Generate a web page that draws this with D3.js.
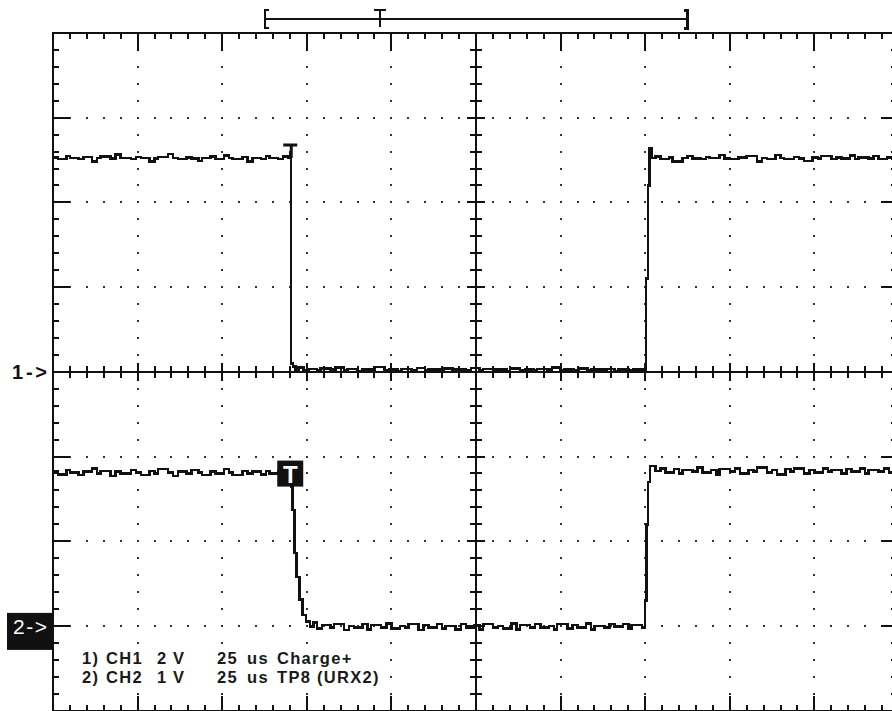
<!DOCTYPE html>
<html>
<head>
<meta charset="utf-8">
<script src="https://cdn.jsdelivr.net/npm/d3@7"></script>
<style>
  body { margin: 0; background: #fff; }
  svg { display: block; }
  text { font-family: "Liberation Sans", Arial, sans-serif; }
</style>
</head>
<body>
<div id="scope"></div>
<script>
// scope screen: 10 x 8 divisions, 25 us/div
var timePerDiv = 25;
var ch1VoltsPerDiv = 2, ch2VoltsPerDiv = 1;
var ch1GroundDiv = 4, ch2GroundDiv = 7;   // divisions from the top
var triggerTime = 70.4;

// record bar above the screen, in divisions
var recordStart = 2.5, recordTrig = 3.87, recordEnd = 7.5;

var legendRows = [
  ["1)", "CH1", "2", "V", "25", "us", "Charge+"],
  ["2)", "CH2", "1", "V", "25", "us", "TP8 (URX2)"]
];

// [time us, volts]
var ch1Trace = [
  [0,5.06],[1.5,5.03],[4,5.10],[5,5.05],[7.5,5.02],[9,5.07],[11.5,4.96],[13,5.05],[14,5.08],[17,5.04],
  [18.5,5.13],[20,5.05],[23,5.02],[24.5,5.07],[26,5.05],[28.5,4.97],[30,5.04],[31,5.07],[34,5.14],
  [35.5,5.05],[37,5.02],[39.5,5.06],[41,5.04],[43,4.98],[44,5.05],[46.5,5.08],[48,5.03],[50.5,5.11],
  [52,5.05],[53,5.02],[56,5.07],[57.5,4.97],[59,5.05],[61.5,5.03],[63,5.10],[64,5.05],[66.5,5.02],
  [68,5.08],[69.5,5.05],[70.2,5.18],
  [70.4,0.20],[70.9,0.12],[71.6,0.02],[72.5,0.10],[74,0.04],[75.5,0.07],[78,0.03],[79,0.08],[82,0.05],
  [83.5,0.10],[86,0.04],[87,0.07],[90,0.02],[91.5,0.06],[94,0.05],[95,0.11],[98,0.04],[99.5,0.06],
  [102,0.02],[103,0.07],[106,0.04],[107.5,0.09],[110,0.03],[111,0.06],[114,0.05],[115.5,0.08],[118,0.02],
  [119,0.06],[122,0.04],[123.5,0.09],[126,0.03],[127,0.07],[130,0.05],[131.5,0.06],[134,0.02],[135,0.08],
  [138,0.04],[139.5,0.06],[142,0.03],[143,0.07],[146,0.05],[147.5,0.10],[150,0.03],[151,0.06],[154,0.04],
  [155.5,0.08],[158,0.03],[159,0.06],[162,0.05],[163.5,0.07],[166,0.02],[167,0.06],[170,0.04],[171.5,0.06],
  [174,0.05],[174.6,0.03],
  [175.2,2.2],[175.8,4.4],[176.3,5.28],[176.8,5.05],[178,5.08],[179.5,5.03],[182,5.06],[183,4.97],
  [186,5.05],[187.5,5.10],[189,5.04],[191.5,5.02],[193,5.07],[194,5.05],[197,5.12],[198.5,5.04],
  [200,5.02],[202.5,5.06],[204,5.05],[205,5.10],[208,4.97],[209.5,5.05],[211,5.03],[213.5,5.12],
  [215,5.05],[216,5.02],[219,5.07],[220.5,5.04],[222,4.98],[224.5,5.06],[226,5.04],[227,5.10],
  [230,5.03],[231.5,5.06],[233,5.04],[235.5,5.11],[237,5.03],[238,5.06],[241,5.04],[242.5,5.09],
  [244,5.02],[246.5,5.06],[248,5.04],[250,5.05]
];

var ch2Trace = [
  [0,1.82],[1.5,1.79],[4,1.84],[5,1.81],[7.5,1.78],[9,1.82],[11.5,1.86],[13,1.80],[14,1.83],[17,1.77],
  [18.5,1.82],[20,1.80],[23,1.84],[24.5,1.81],[26,1.78],[28.5,1.83],[30,1.80],[31,1.85],[34,1.81],
  [35.5,1.77],[37,1.82],[39.5,1.80],[41,1.84],[43,1.81],[44,1.78],[46.5,1.82],[48,1.80],[50.5,1.85],
  [52,1.81],[53,1.78],[56,1.83],[57.5,1.80],[59,1.82],[61.5,1.79],[63,1.83],[64,1.80],[66.5,1.82],
  [68,1.81],[70.3,1.81],
  [70.5,1.64],[70.8,1.37],[71.4,0.86],[72.0,0.58],[72.9,0.31],[73.8,0.13],[74.7,0.05],[75.9,-0.01],
  [77,0.04],[78,-0.03],[79.5,0.01],[82,-0.02],[83,0.02],[86,-0.05],[87.5,0.00],[89,-0.02],[91.5,0.02],
  [93,-0.04],[94,0.01],[97,-0.02],[98.5,0.03],[100,-0.03],[102.5,0.00],[104,-0.02],[105,0.02],[108,-0.05],
  [109.5,0.01],[111,-0.02],[113.5,0.02],[115,-0.03],[116,0.00],[119,-0.04],[120.5,0.02],[122,-0.02],
  [124.5,0.01],[126,-0.04],[127,0.02],[130,-0.02],[131.5,0.00],[133,-0.03],[135.5,0.03],[137,-0.04],
  [138,0.01],[141,-0.02],[142.5,0.02],[144,-0.02],[146.5,0.00],[148,-0.04],[149,0.02],[152,-0.03],
  [153.5,0.01],[155,-0.02],[157.5,0.03],[159,-0.04],[160,0.00],[163,-0.02],[164.5,0.02],[166,-0.01],
  [168.5,0.02],[170,-0.03],[171,0.01],[174,-0.02],[174.8,-0.02],
  [175.0,0.30],[175.4,1.20],[175.9,1.70],[176.4,1.89],[178,1.83],[179.5,1.86],[181,1.81],[183.5,1.85],
  [185,1.80],[186,1.84],[189,1.82],[190.5,1.87],[192,1.81],[194.5,1.84],[196,1.79],[197,1.85],
  [200,1.82],[201.5,1.86],[203,1.80],[205.5,1.84],[207,1.82],[208,1.87],[211,1.81],[212.5,1.84],
  [214,1.79],[216.5,1.85],[218,1.82],[219,1.86],[222,1.80],[223.5,1.84],[225,1.81],[227.5,1.86],
  [229,1.82],[230,1.84],[233,1.80],[234.5,1.85],[236,1.82],[238.5,1.86],[240,1.80],[241,1.84],
  [244,1.82],[245.5,1.86],[247,1.81],[250,1.83]
];

var width = 892, height = 711;
var svg = d3.select("#scope").append("svg")
    .attr("width", width)
    .attr("height", height);

// division scales
var gx = d3.scaleLinear().domain([0, 10]).range([53, 899]);
var gy = d3.scaleLinear().domain([0, 8]).range([33, 710.6]);
var x = d3.scaleLinear().domain([0, 10 * timePerDiv]).range(gx.range());
var y1 = d3.scaleLinear()
    .domain([ch1GroundDiv * ch1VoltsPerDiv, (ch1GroundDiv - 8) * ch1VoltsPerDiv])
    .range(gy.range());
var y2 = d3.scaleLinear()
    .domain([ch2GroundDiv * ch2VoltsPerDiv, (ch2GroundDiv - 8) * ch2VoltsPerDiv])
    .range(gy.range());

var grid = svg.append("g").attr("shape-rendering", "crispEdges");
var ink = "#111";

// dotted major lines
var dots = [];
d3.range(1, 10).forEach(function(i) {
  if (i == 5) return;
  d3.range(1, 40).forEach(function(j) { dots.push([gx(i), gy(j / 5)]); });
});
d3.range(1, 8).forEach(function(k) {
  if (k == 4) return;
  d3.range(1, 50).forEach(function(j) { dots.push([gx(j / 5), gy(k)]); });
});
grid.selectAll("rect.dot").data(dots).enter().append("rect")
    .attr("class", "dot")
    .attr("x", function(d) { return Math.round(d[0]) - 1; })
    .attr("y", function(d) { return Math.round(d[1]) - 1; })
    .attr("width", 2).attr("height", 2)
    .attr("fill", "#333");

// ticks on the border and on the centre axes
var ticks = [];
d3.range(1, 50).forEach(function(j) {
  var major = j % 5 == 0, xx = gx(j / 5);
  ticks.push([xx, gy(0), xx, gy(0) + (major ? 18 : 6)]);
  ticks.push([xx, gy(8), xx, gy(8) - (major ? 15 : 6)]);
  var c = major ? 9 : 6;
  ticks.push([xx, gy(4) - c, xx, gy(4) + c]);
});
d3.range(1, 40).forEach(function(j) {
  var major = j % 5 == 0, yy = gy(j / 5);
  ticks.push([gx(0), yy, gx(0) + (major ? 17 : 6), yy]);
  ticks.push([gx(10), yy, gx(10) - (major ? 18 : 8), yy]);
  var c = major ? 9 : 6;
  ticks.push([gx(5) - c, yy, gx(5) + c, yy]);
});
grid.selectAll("line.tick").data(ticks).enter().append("line")
    .attr("class", "tick")
    .attr("x1", function(d) { return d[0]; })
    .attr("y1", function(d) { return d[1]; })
    .attr("x2", function(d) { return d[2]; })
    .attr("y2", function(d) { return d[3]; })
    .attr("stroke", ink).attr("stroke-width", 2);

// border and centre axes
grid.append("rect")
    .attr("x", gx(0)).attr("y", gy(0))
    .attr("width", gx(10) - gx(0)).attr("height", gy(8) - gy(0))
    .attr("fill", "none").attr("stroke", ink).attr("stroke-width", 2);
grid.append("line")
    .attr("x1", gx(0)).attr("x2", gx(10)).attr("y1", gy(4)).attr("y2", gy(4))
    .attr("stroke", ink).attr("stroke-width", 2);
grid.append("line")
    .attr("x1", gx(5)).attr("x2", gx(5)).attr("y1", gy(0)).attr("y2", gy(8))
    .attr("stroke", ink).attr("stroke-width", 2);

// record bar
var bar = svg.append("g").attr("stroke", ink).attr("fill", "none")
    .attr("shape-rendering", "crispEdges");
var bs = gx(recordStart), be = gx(recordEnd), bt = gx(recordTrig);
bar.append("line").attr("x1", bs).attr("x2", be).attr("y1", 19).attr("y2", 19).attr("stroke-width", 2);
bar.append("path").attr("d", "M" + (bs + 4) + ",10H" + bs + "V28H" + (bs + 4)).attr("stroke-width", 2);
bar.append("path").attr("d", "M" + (be - 4) + ",10H" + be + "V28H" + (be - 4)).attr("stroke-width", 3);
bar.append("path").attr("d", "M" + (bt - 6) + ",10H" + (bt + 6) + "M" + bt + ",10V27").attr("stroke-width", 2);

// traces
var line = d3.line()
    .x(function(d) { return x(d[0]); })
    .curve(d3.curveStepAfter);
svg.append("path")
    .attr("d", line.y(function(d) { return y1(d[1]); })(ch1Trace))
    .attr("fill", "none").attr("stroke", ink).attr("stroke-width", 2.5)
    .attr("shape-rendering", "crispEdges");
svg.append("path")
    .attr("d", line.y(function(d) { return y2(d[1]); })(ch2Trace))
    .attr("fill", "none").attr("stroke", ink).attr("stroke-width", 2.5)
    .attr("shape-rendering", "crispEdges");

// trigger marks
var tx = x(triggerTime);
svg.append("path")
    .attr("d", "M" + (tx - 8) + "," + (y1(5.05) - 13) + "H" + (tx + 6) +
               "M" + tx + "," + (y1(5.05) - 13) + "V" + y1(5.05))
    .attr("stroke", ink).attr("stroke-width", 3).attr("fill", "none");
var t2 = svg.append("g").attr("transform", "translate(" + (tx - 1) + "," + (y2(1.81) + 1) + ")");
t2.append("rect").attr("x", -13).attr("y", -13).attr("width", 26).attr("height", 26).attr("fill", ink);
t2.append("text").attr("x", 0).attr("y", 9).attr("text-anchor", "middle")
    .attr("fill", "#fff").attr("font-size", 24).attr("font-weight", "bold").text("T");

// channel markers
svg.append("text").attr("x", 12).attr("y", y1(0) + 7)
    .attr("font-size", 20).attr("font-weight", "bold").attr("fill", ink)
    .attr("textLength", 35).attr("lengthAdjust", "spacing").text("1->");
svg.append("rect").attr("x", 7).attr("y", y2(0) - 13).attr("width", 46).attr("height", 37)
    .attr("fill", ink);
svg.append("text").attr("x", 13).attr("y", y2(0) + 8)
    .attr("font-size", 21).attr("fill", "#fff")
    .attr("textLength", 34).attr("lengthAdjust", "spacing").text("2->");

// legend
var cols = [82, 106, 157, 173, 217, 247, 277];
var legend = svg.append("g").attr("font-size", 16.5).attr("font-weight", "bold")
    .attr("letter-spacing", 1.3).attr("fill", "#1a1a1a");
legendRows.forEach(function(row, r) {
  legend.selectAll(null).data(row).enter().append("text")
      .attr("x", function(d, i) { return cols[i]; })
      .attr("y", 664 + r * 19)
      .text(function(d) { return d; });
});
</script>
</body>
</html>
